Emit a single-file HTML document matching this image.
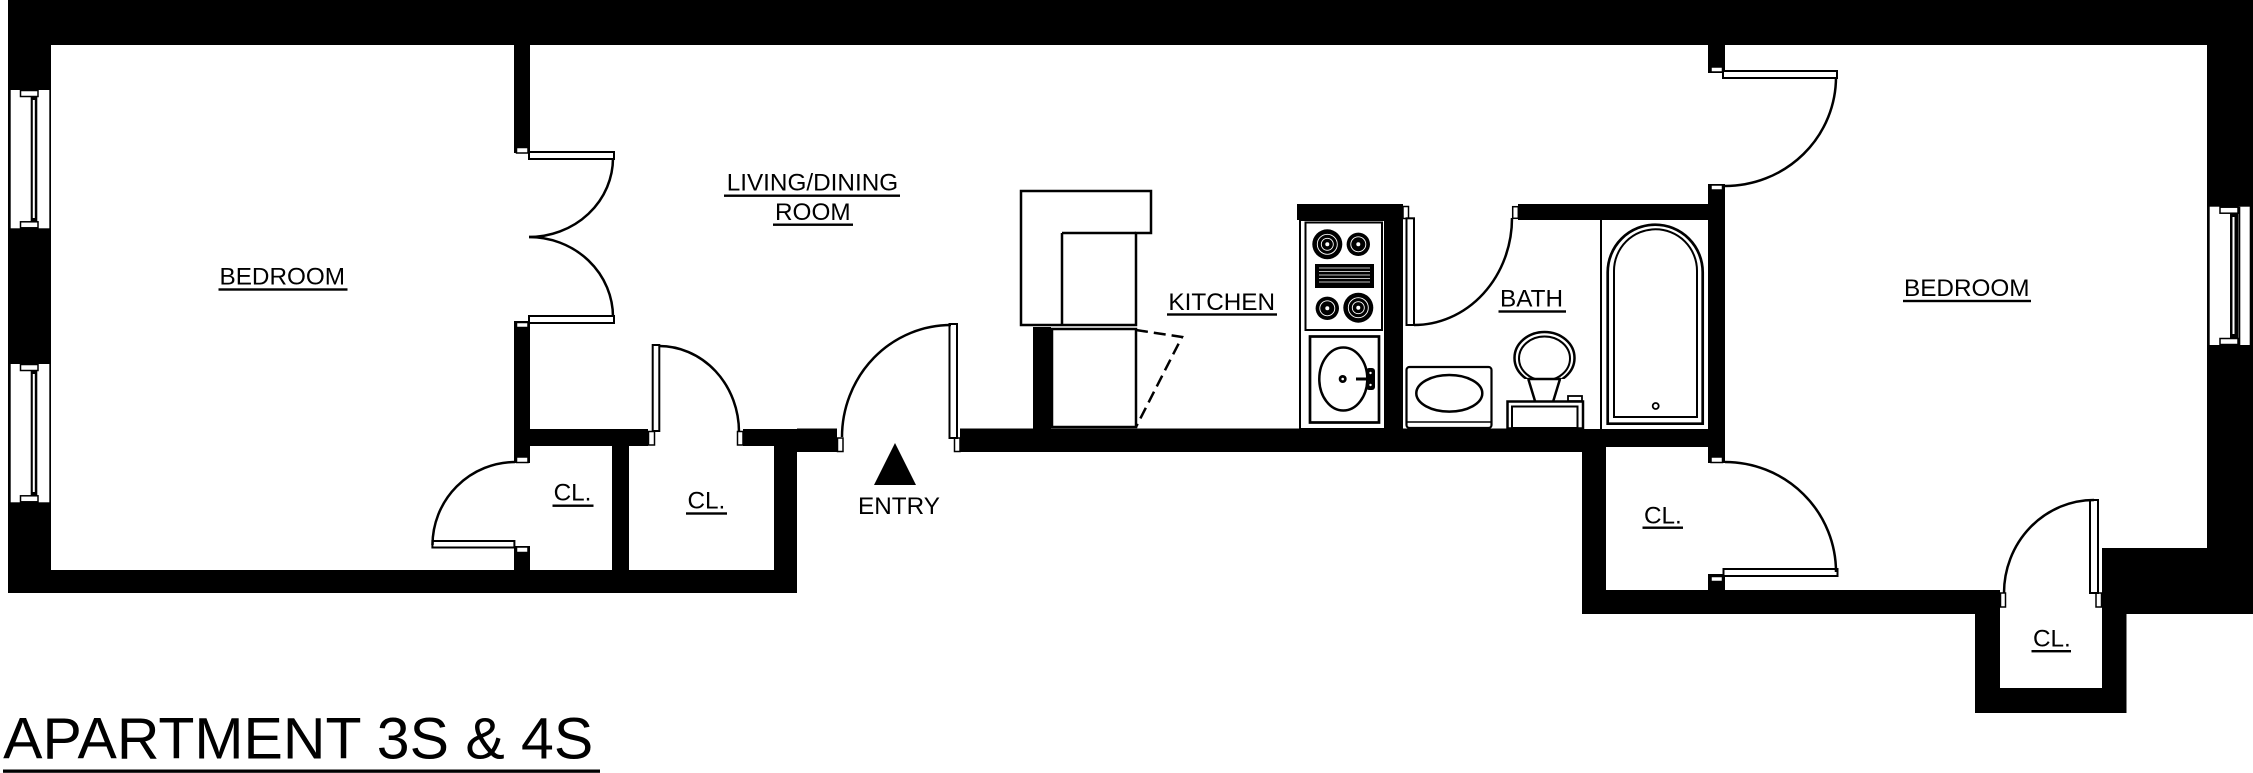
<!DOCTYPE html>
<html>
<head>
<meta charset="utf-8">
<style>
  html,body{margin:0;padding:0;background:#fff;}
  svg{display:block;}
  text{font-family:"Liberation Sans", Arial, sans-serif; fill:#000;}
</style>
</head>
<body>
<svg width="2253" height="773" viewBox="0 0 2253 773" xmlns="http://www.w3.org/2000/svg">
  <rect x="0" y="0" width="2253" height="773" fill="#fff"/>

  <!-- ===== WALLS ===== -->
  <g fill="#000">
    <rect x="8" y="0" width="2245" height="45"/>
    <rect x="8" y="0" width="43" height="593"/>
    <rect x="8" y="570" width="789" height="23"/>
    <rect x="514" y="45" width="16" height="108"/>
    <rect x="514" y="321" width="16" height="142"/>
    <rect x="514" y="546" width="16" height="24"/>
    <rect x="514" y="429" width="134" height="17"/>
    <rect x="743" y="429" width="54" height="17"/>
    <rect x="797" y="428.5" width="40" height="23.5"/>
    <rect x="612" y="446" width="17" height="124"/>
    <rect x="774" y="446" width="23" height="147"/>
    <rect x="960" y="428.5" width="622" height="23.5"/>
    <rect x="1582" y="429" width="127" height="18"/>
    <rect x="1033" y="327" width="18" height="102"/>
    <rect x="1297" y="204" width="106" height="16"/>
    <rect x="1385" y="220" width="18" height="209"/>
    <rect x="1518" y="204" width="190" height="16"/>
    <rect x="1708" y="45" width="17" height="28"/>
    <rect x="1708" y="184" width="17" height="279"/>
    <rect x="1708" y="574" width="17" height="17"/>
    <rect x="2207" y="0" width="46" height="614"/>
    <rect x="2102" y="548" width="151" height="66"/>
    <rect x="1582" y="590" width="393" height="24"/>
    <rect x="1582" y="429" width="24" height="185"/>
    <rect x="1975" y="590" width="25" height="123"/>
    <rect x="1975" y="688" width="151" height="25"/>
    <rect x="2102" y="548" width="24.5" height="165"/>
  </g>

  <!-- ===== JAMBS ===== -->
  <g fill="#fff" stroke="#000" stroke-width="1.5">
    <rect x="516.5" y="147.5" width="11.5" height="5.5"/>
    <rect x="516.5" y="322.5" width="11.5" height="5"/>
    <rect x="516.5" y="457" width="11.5" height="5.5"/>
    <rect x="516.5" y="547" width="11.5" height="5.5"/>
    <rect x="648.5" y="431.5" width="6" height="13.5"/>
    <rect x="737.5" y="431.5" width="5.5" height="13.5"/>
    <rect x="837.5" y="438" width="5.5" height="13.5"/>
    <rect x="954.5" y="438" width="5.5" height="13.5"/>
    <rect x="1403" y="206.5" width="5.5" height="12"/>
    <rect x="1512.7" y="206.7" width="5.6" height="11.6"/>
    <rect x="1711" y="67" width="11.5" height="5"/>
    <rect x="1711" y="185" width="11.5" height="5"/>
    <rect x="1711" y="457" width="11.5" height="5.5"/>
    <rect x="1711" y="576.5" width="11.5" height="5"/>
    <rect x="2000.5" y="593" width="5" height="14"/>
    <rect x="2096" y="593" width="5.5" height="14"/>
  </g>

  <!-- ===== WINDOWS ===== -->
  <g>
    <rect x="10.7" y="90" width="38.6" height="138.3" fill="#fff"/>
    <rect x="20.5" y="90.5" width="17.5" height="6" fill="#fff" stroke="#000" stroke-width="1.5"/>
    <rect x="20.5" y="221.8" width="17.5" height="6" fill="#fff" stroke="#000" stroke-width="1.5"/>
    <rect x="30.7" y="96.5" width="6.6" height="125.3" fill="#000"/>
    <rect x="32.8" y="100" width="2" height="118" fill="#fff"/>

    <rect x="10.7" y="364" width="38.6" height="138.3" fill="#fff"/>
    <rect x="20.5" y="364.5" width="17.5" height="6" fill="#fff" stroke="#000" stroke-width="1.5"/>
    <rect x="20.5" y="495.8" width="17.5" height="6" fill="#fff" stroke="#000" stroke-width="1.5"/>
    <rect x="30.7" y="370.5" width="6.6" height="125.3" fill="#000"/>
    <rect x="32.8" y="374" width="2" height="118" fill="#fff"/>

    <rect x="2209.7" y="206.7" width="40" height="138.3" fill="#fff"/>
    <rect x="2220" y="207.2" width="18" height="6" fill="#fff" stroke="#000" stroke-width="1.5"/>
    <rect x="2220" y="338.5" width="18" height="6" fill="#fff" stroke="#000" stroke-width="1.5"/>
    <rect x="2230" y="213" width="8" height="125.5" fill="#000"/>
    <rect x="2232.5" y="217" width="2" height="117" fill="#fff"/>
    <rect x="2238.3" y="206.7" width="2" height="138.3" fill="#000"/>
  </g>

  <!-- ===== DOOR PANELS ===== -->
  <g fill="#fff" stroke="#000" stroke-width="2">
    <rect x="529" y="152" width="85" height="7"/>
    <rect x="529" y="316" width="85" height="7"/>
    <rect x="432.4" y="541" width="82" height="6.5"/>
    <rect x="652.7" y="345" width="6.6" height="86"/>
    <rect x="949.5" y="324" width="7.5" height="114"/>
    <rect x="1406.5" y="218.3" width="7.5" height="106.7"/>
    <rect x="1723" y="71" width="114" height="7"/>
    <rect x="1723.5" y="569" width="114" height="7"/>
    <rect x="2090" y="500" width="8" height="93"/>
  </g>

  <!-- ===== DOOR ARCS ===== -->
  <g fill="none" stroke="#000" stroke-width="2.5">
    <path d="M 613 158 A 84 79 0 0 1 529 237"/>
    <path d="M 529 237 A 84 80 0 0 1 613 317"/>
    <path d="M 515 462 A 83 83 0 0 0 432.5 545"/>
    <path d="M 659 346 A 80 86 0 0 1 739 432"/>
    <path d="M 951 325 A 109 112 0 0 0 842 437"/>
    <path d="M 1414 325 A 98 107 0 0 0 1512 218"/>
    <path d="M 1836 77 A 111 109 0 0 1 1725 186"/>
    <path d="M 1725 462 A 111 110 0 0 1 1836 572"/>
    <path d="M 2094 500 A 90 93 0 0 0 2004 593"/>
  </g>

  <!-- ===== KITCHEN ===== -->
  <g fill="none" stroke="#000" stroke-width="2.5">
    <path d="M 1021 191 H 1151 V 233 H 1136 V 325 H 1021 Z" fill="#fff"/>
    <path d="M 1062 233 H 1136 M 1062 233 V 325"/>
    <rect x="1052" y="329" width="84" height="98" fill="#fff"/>
    <path d="M 1136 330 L 1182 337 L 1136 427" stroke-dasharray="12 6"/>
    <rect x="1300" y="220" width="85" height="209" stroke-width="2"/>
    <rect x="1305.5" y="222.5" width="76.5" height="107.5" stroke-width="2"/>
    <rect x="1310" y="336.5" width="69" height="86" stroke-width="2.7"/>
    <ellipse cx="1343.3" cy="379" rx="24" ry="31.5" stroke-width="2.5"/>
  </g>
  <g>
    <circle cx="1327.3" cy="244.3" r="15" fill="#000"/>
    <circle cx="1327.3" cy="244.3" r="10" fill="none" stroke="#fff" stroke-width="0.9"/>
    <circle cx="1327.3" cy="244.3" r="6" fill="none" stroke="#fff" stroke-width="0.9"/>
    <circle cx="1327.3" cy="244.3" r="2" fill="#fff"/>

    <circle cx="1358.3" cy="244.3" r="11.7" fill="#000"/>
    <circle cx="1358.3" cy="244.3" r="7.5" fill="none" stroke="#fff" stroke-width="0.9"/>
    <circle cx="1358.3" cy="244.3" r="2" fill="#fff"/>

    <circle cx="1327.3" cy="308.3" r="11.7" fill="#000"/>
    <circle cx="1327.3" cy="308.3" r="7.5" fill="none" stroke="#fff" stroke-width="0.9"/>
    <circle cx="1327.3" cy="308.3" r="2" fill="#fff"/>

    <circle cx="1358.3" cy="307.7" r="15" fill="#000"/>
    <circle cx="1358.3" cy="307.7" r="10" fill="none" stroke="#fff" stroke-width="0.9"/>
    <circle cx="1358.3" cy="307.7" r="6" fill="none" stroke="#fff" stroke-width="0.9"/>
    <circle cx="1358.3" cy="307.7" r="2" fill="#fff"/>

    <rect x="1315" y="264" width="59" height="24" fill="#000"/>
    <g stroke="#fff" stroke-width="0.8">
      <line x1="1319" y1="268" x2="1370" y2="268"/>
      <line x1="1319" y1="271.5" x2="1370" y2="271.5"/>
      <line x1="1319" y1="275" x2="1370" y2="275"/>
      <line x1="1319" y1="278.5" x2="1370" y2="278.5"/>
      <line x1="1319" y1="282" x2="1370" y2="282"/>
    </g>
    <circle cx="1342.7" cy="379" r="4" fill="#000"/>
    <circle cx="1342.7" cy="379" r="1.3" fill="#fff"/>
    <line x1="1356" y1="379" x2="1368" y2="379" stroke="#000" stroke-width="3"/>
    <rect x="1366" y="368" width="9" height="22" rx="3" fill="#000"/>
    <circle cx="1370.5" cy="373" r="1.2" fill="#fff"/>
    <circle cx="1370.5" cy="385" r="1.2" fill="#fff"/>
  </g>

  <!-- ===== BATH ===== -->
  <g fill="none" stroke="#000">
    <rect x="1406.5" y="367" width="85" height="61" rx="3" stroke-width="2.2" fill="#fff"/>
    <line x1="1407" y1="422" x2="1491" y2="422" stroke-width="1.5"/>
    <ellipse cx="1449.3" cy="393.3" rx="33" ry="18.3" stroke-width="2.5"/>
    <rect x="1507.5" y="401.5" width="75.5" height="27" stroke-width="2.5" fill="#fff"/>
    <rect x="1512" y="406.5" width="65.5" height="21.5" stroke-width="2"/>
    <rect x="1568" y="396" width="14" height="5" stroke-width="1.8" fill="#fff"/>
    <line x1="1528.3" y1="379" x2="1535" y2="401" stroke-width="2.5"/>
    <line x1="1560" y1="379" x2="1553.3" y2="401" stroke-width="2.5"/>
    <clipPath id="bowlclip"><rect x="1500" y="320" width="100" height="59"/></clipPath>
    <g clip-path="url(#bowlclip)">
      <ellipse cx="1544.5" cy="358" rx="30" ry="26" stroke-width="2.5"/>
      <ellipse cx="1544.5" cy="358.5" rx="25.5" ry="22" stroke-width="2"/>
    </g>
    <line x1="1527.5" y1="379" x2="1561" y2="379" stroke-width="2.5"/>
    <rect x="1600" y="220" width="2" height="209" fill="#000" stroke="none"/>
    <path d="M 1607.7 423.7 V 272.2 A 47.5 47.5 0 0 1 1702.7 272.2 V 423.7 Z" stroke-width="2.7"/>
    <path d="M 1614 417 V 270.8 A 41.5 41.5 0 0 1 1697 270.8 V 417 Z" stroke-width="2"/>
    <circle cx="1655.7" cy="406" r="3" stroke-width="1.8"/>
  </g>

  <polygon points="895,443 874,485 916,485" fill="#000"/>

  <!-- ===== LABELS ===== -->
  <g font-size="24.3">
    <text x="726.7" y="190.7">LIVING/DINING</text>
    <rect x="724" y="194.5" width="176" height="2.4"/>
    <text x="775" y="220">ROOM</text>
    <rect x="773" y="223.5" width="80" height="2.4"/>

    <text x="219.5" y="284.7">BEDROOM</text>
    <rect x="218.5" y="288.3" width="129" height="2.4"/>

    <text x="1904" y="296.2">BEDROOM</text>
    <rect x="1903" y="299.8" width="128" height="2.4"/>

    <text x="1168.4" y="310">KITCHEN</text>
    <rect x="1167" y="313.3" width="110" height="2.4"/>

    <text x="1500" y="306.7">BATH</text>
    <rect x="1498.5" y="310.3" width="67.5" height="2.4"/>

    <text x="553.6" y="500.7">CL.</text>
    <rect x="552.5" y="504.5" width="41" height="2.4"/>

    <text x="687.5" y="508.3">CL.</text>
    <rect x="686" y="512.3" width="41" height="2.4"/>

    <text x="858" y="514">ENTRY</text>

    <text x="1644" y="523.3">CL.</text>
    <rect x="1642.5" y="526.5" width="40.5" height="2.4"/>

    <text x="2033" y="646.7">CL.</text>
    <rect x="2031.5" y="650" width="39.5" height="2.4"/>
  </g>

  <text x="3.2" y="758.3" font-size="58" textLength="590" lengthAdjust="spacingAndGlyphs">APARTMENT 3S &amp; 4S</text>
  <rect x="3" y="769.5" width="597" height="3.3" fill="#000"/>
</svg>
</body>
</html>
